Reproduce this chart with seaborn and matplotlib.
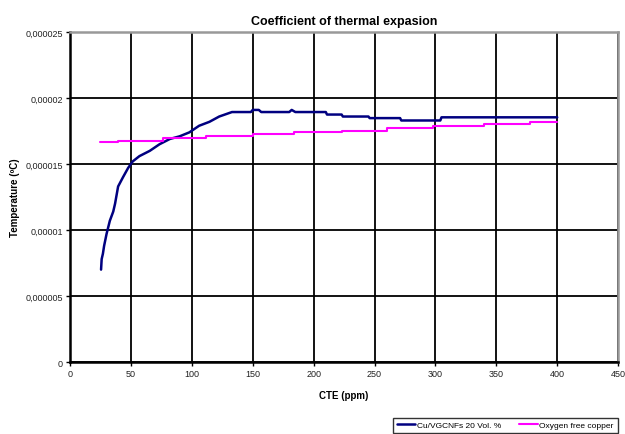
import numpy as np
import pandas as pd
import seaborn as sns
from matplotlib import pyplot as plt
from matplotlib.ticker import FuncFormatter

# Données (CTE en ppm, valeurs en 1e-6)
cte_cu = [25.5, 26, 27, 28, 30, 32.7, 35.5, 37, 39.5, 43.5, 47.7, 51.5, 57, 65.5, 73.5,
          82, 90, 98, 106, 114.5, 122.5, 133, 148.5, 150, 155, 157, 180, 182, 185,
          210, 211, 223, 224, 245, 246, 271, 272, 304, 305, 400]
val_cu = [7.0, 7.8, 8.2, 8.8, 9.7, 10.7, 11.4, 12.0, 13.3, 14.0, 14.7, 15.2, 15.6, 16.0, 16.5,
          16.9, 17.1, 17.4, 17.9, 18.2, 18.6, 18.94, 18.94, 19.1, 19.1, 18.94, 18.94, 19.1, 18.94,
          18.94, 18.75, 18.75, 18.6, 18.6, 18.48, 18.48, 18.3, 18.3, 18.54, 18.54]

cte_ofc = [25, 39, 76, 112, 150, 184, 223, 260, 298, 340, 378, 400]
val_ofc = [16.64, 16.77, 16.95, 17.15, 17.27, 17.4, 17.52, 17.73, 17.85, 18.03, 18.16, 18.16]

nom_cu = 'Cu/VGCNFs 20 Vol. %'
nom_ofc = 'Oxygen free copper'

df_cu = pd.DataFrame({'cte': cte_cu, 'val': np.array(val_cu) * 1e-6})
df_ofc = pd.DataFrame({'cte': cte_ofc, 'val': np.array(val_ofc) * 1e-6})

sns.set_style('white')
plt.rcParams['font.family'] = ['Liberation Sans', 'DejaVu Sans']
plt.rcParams['text.color'] = 'black'
plt.rcParams['axes.labelcolor'] = 'black'

fig = plt.figure(figsize=(6.25, 4.35), dpi=100)
ax = fig.add_axes([0.112, 0.1655, 0.877, 0.7585])

sns.lineplot(data=df_cu, x='cte', y='val', ax=ax, color='#000080', lw=1.8,
             estimator=None, sort=False, label=nom_cu, legend=False)
sns.lineplot(data=df_ofc, x='cte', y='val', ax=ax, color='#ff00ff', lw=1.5,
             estimator=None, sort=False, drawstyle='steps-post', label=nom_ofc, legend=False)

ax.set_xlim(0, 450)
ax.set_ylim(0, 0.000025)
ax.set_xticks(np.arange(0, 451, 50))
ax.set_yticks(np.arange(0, 0.0000251, 0.000005))

def fmt_y(v, pos):
    if abs(v) < 1e-12:
        return '0'
    s = ('%.6f' % v).rstrip('0')
    return s.replace('.', ',')

ax.yaxis.set_major_formatter(FuncFormatter(fmt_y))
ax.grid(True, color='black', lw=1.3)
ax.set_axisbelow(True)

for cote in ['left', 'bottom']:
    ax.spines[cote].set_color('black')
    ax.spines[cote].set_linewidth(1.8)
for cote in ['top', 'right']:
    ax.spines[cote].set_color('#999999')
    ax.spines[cote].set_linewidth(1.8)

ax.tick_params(axis='both', labelsize=6.5, length=3, width=1, direction='out',
               left=True, bottom=True, colors='black', labelcolor='#222222', pad=2)

ax.set_title('Coefficient of thermal expasion', fontsize=9, fontweight='bold', pad=6)
ax.set_xlabel('CTE (ppm)', fontsize=7, fontweight='bold', labelpad=9)
ax.set_ylabel('Temperature (ºC)', fontsize=7, fontweight='bold', labelpad=4)

handles, labels = ax.get_legend_handles_labels()
leg = fig.legend(handles, labels, loc='lower right', bbox_to_anchor=(0.988, 0.002),
                 ncol=2, fontsize=6, frameon=True, fancybox=False, edgecolor='black',
                 handlelength=2.2, handletextpad=0.2, columnspacing=2.2,
                 borderpad=0.45, borderaxespad=0)
leg.get_frame().set_linewidth(1.0)

fig.savefig('out.png', dpi=100, facecolor='white')
